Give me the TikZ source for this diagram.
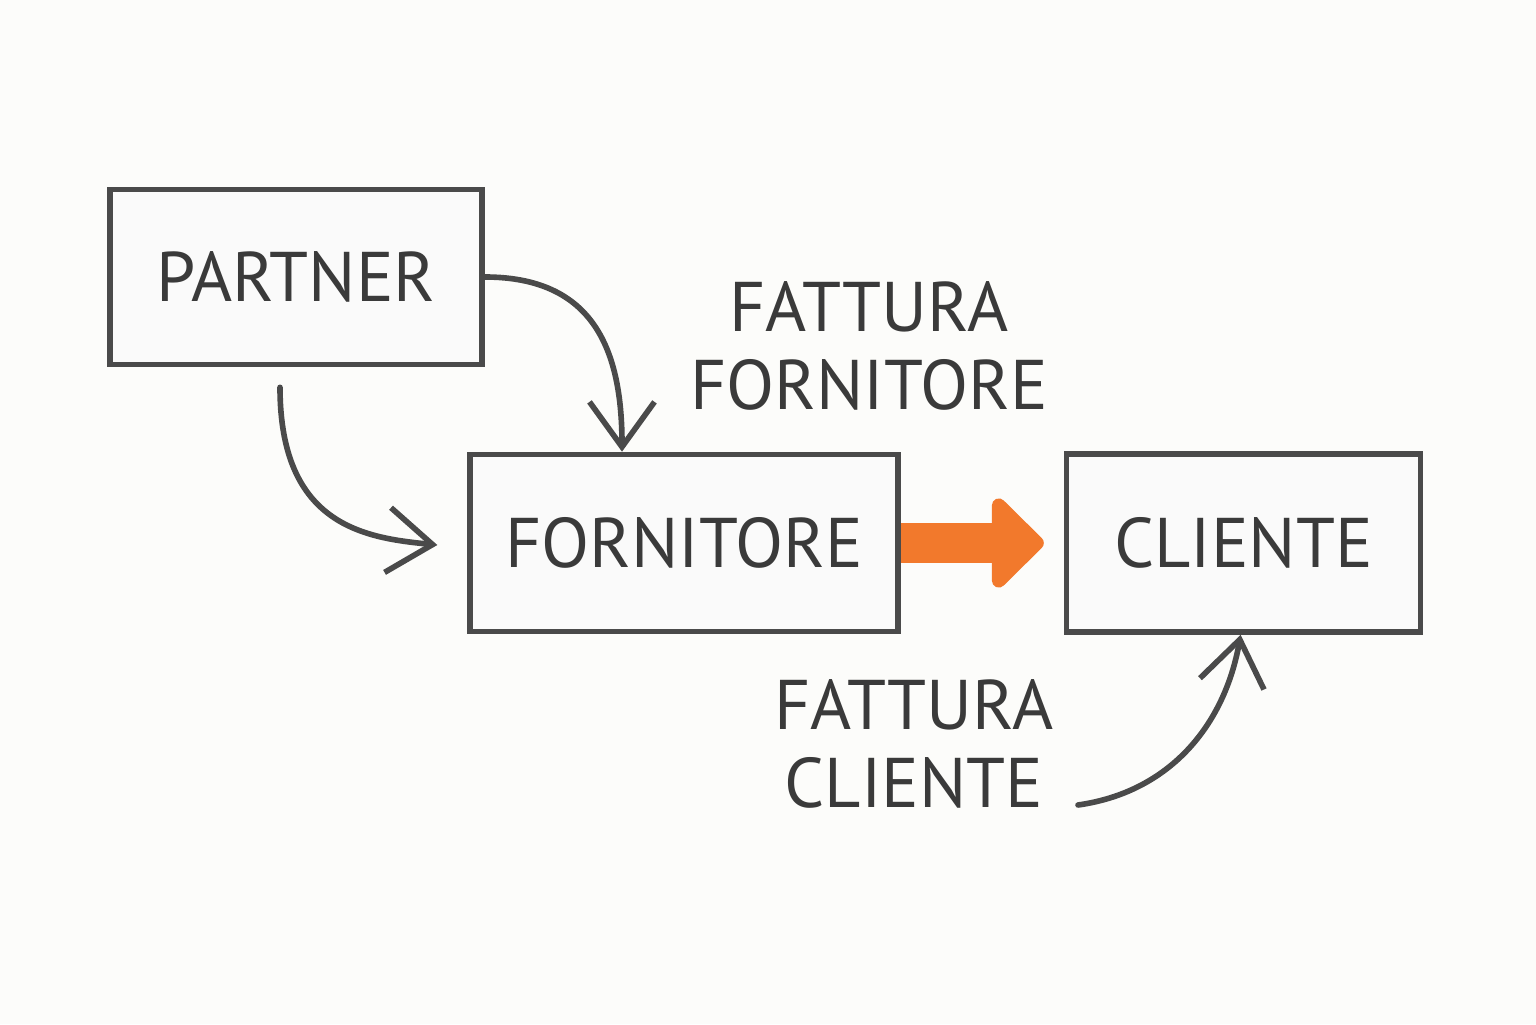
\documentclass[tikz,border=0pt]{standalone}
\usepackage{fontspec}
\setmainfont{PT Sans}
\usepackage{tikz}
\usetikzlibrary{positioning,arrows.meta}
\usepackage{xcolor}
\definecolor{pencil}{HTML}{4A4A4A}
\definecolor{ink}{HTML}{3A3A3A}
\definecolor{paper}{HTML}{FCFCFA}
\definecolor{crayon}{HTML}{F2792C}

\begin{document}
\begin{tikzpicture}[
    % styles
    boxnode/.style={rectangle, draw=pencil, fill=gray!4, line width=1.6pt, text=ink, inner sep=0pt, font=\fontsize{20}{24}\selectfont},
    labelnode/.style={text=ink, align=center, inner sep=0pt, font=\fontsize{20}{22.2}\selectfont},
    linkarrow/.style={draw=pencil, line width=1.6pt, line cap=round, -{Straight Barb[length=0.45cm,width=0.65cm]}},
    flowarrow/.style={draw=crayon, line width=0.4cm, -{Triangle[round,length=0.55cm,width=1.05cm]}},
    ]
    \fill[paper] (0,0) rectangle (15.36,10.24);

    %Nodes
    \node[boxnode, minimum width=3.72cm, minimum height=1.75cm] (partner) at (2.96,7.47) {PARTNER};
    \node[boxnode, minimum width=4.28cm, minimum height=1.77cm] (forn) at (6.84,4.81) {FORNITORE};
    \node[boxnode, minimum width=3.54cm, minimum height=1.78cm] (cli) [right=1.63cm of forn] {CLIENTE};
    \node[labelnode] (ffor) at (8.69,6.78) {FATTURA\\FORNITORE};
    \node[labelnode] (fcli) at (9.14,2.80) {FATTURA\\CLIENTE};
    \coordinate (start) at (10.78,2.19);

    %Lines
    \draw[linkarrow] (partner.east) .. controls +(1.1,0) and +(0,1.0) .. ([xshift=-0.62cm]forn.north);
    \draw[linkarrow, shorten <=0.2cm, shorten >=0.3cm] ([xshift=-0.16cm]partner.south) .. controls +(0,-1.6) and +(-1.0,0.1) .. ([yshift=-0.05cm]forn.west);
    \draw[flowarrow, shorten >=0.2cm] (forn.east) -- (forn.east -| cli.west);
    \draw[linkarrow] (start) to[out=8,in=-100] ([xshift=-0.03cm]cli.south);
\end{tikzpicture}
\end{document}
